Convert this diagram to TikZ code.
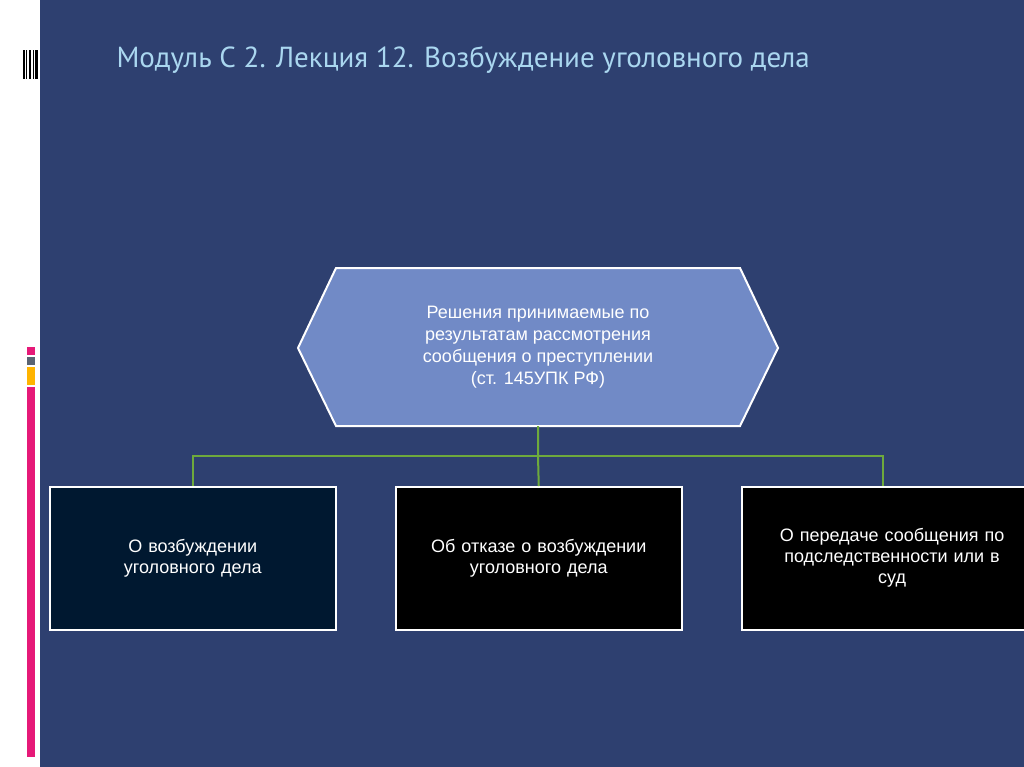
\documentclass[tikz,border=0pt]{standalone}
\usepackage{fontspec}
\setmainfont{Liberation Sans}
\newfontfamily\titlefont{PT Sans}
\definecolor{navybg}{RGB}{46,64,112}
\definecolor{pinkc}{RGB}{230,25,120}
\definecolor{grayc}{RGB}{90,100,115}
\definecolor{yelc}{RGB}{255,180,0}
\definecolor{titlec}{RGB}{170,215,240}
\definecolor{hexc}{RGB}{113,138,198}
\definecolor{darkbox}{RGB}{0,24,48}
\definecolor{greenc}{RGB}{110,170,60}
\begin{document}
\begin{tikzpicture}[x=1pt,y=-1pt,
  box/.style={draw=white,line width=1.5pt,minimum width=286pt,minimum height=143pt,anchor=north west,text=white,font=\fontsize{18}{21}\selectfont,align=center,text width=270pt},
  link/.style={draw=greenc,line width=2pt}]
\useasboundingbox (0,0) rectangle (1024,767);
\fill[white] (0,0) rectangle (1024,767);
\fill[navybg] (40,0) rectangle (1024,767);
\foreach \x/\w in {23/1.5,26/1,28.5/2.5,32.5/1,34.5/3}{\fill[black] (\x,50) rectangle ++(\w,29);}
\fill[pinkc] (27,347) rectangle (35,355);
\fill[grayc] (27,357) rectangle (35,365);
\fill[yelc] (27,367) rectangle (35,385);
\fill[pinkc] (27,387) rectangle (35,757);
\node[anchor=west,text=titlec,font=\titlefont\fontsize{29}{34}\selectfont] (title) at (113,60) {Модуль С 2. Лекция 12. Возбуждение уголовного дела};
\draw[white,line width=2pt,fill=hexc] (298,348) -- (336,268) -- (740,268) -- (778,348) -- (740,426) -- (336,426) -- cycle;
\coordinate (hexb) at (538,426);
\node[text=white,font=\fontsize{18}{22}\selectfont,align=center] (hex) at (538,347) {Решения принимаемые по\\результатам рассмотрения\\сообщения о преступлении\\(ст. 145УПК РФ)};
\node[box,fill=darkbox] (b1) at (49,486) {О возбуждении\\уголовного дела};
\node[box,fill=black] (b2) at (395,486) {Об отказе о возбуждении\\уголовного дела};
\node[box,fill=black,text width=294pt] (b3) at (741,486) {О передаче сообщения по\\подследственности или в\\суд};
\coordinate (j) at (538,456);
\coordinate (b3top) at (883,486);
\draw[link] (hexb) -- (j) -- (b2.north);
\draw[link] (j) -| (b1.north);
\draw[link] (j) -| (b3top);
\end{tikzpicture}
\end{document}
